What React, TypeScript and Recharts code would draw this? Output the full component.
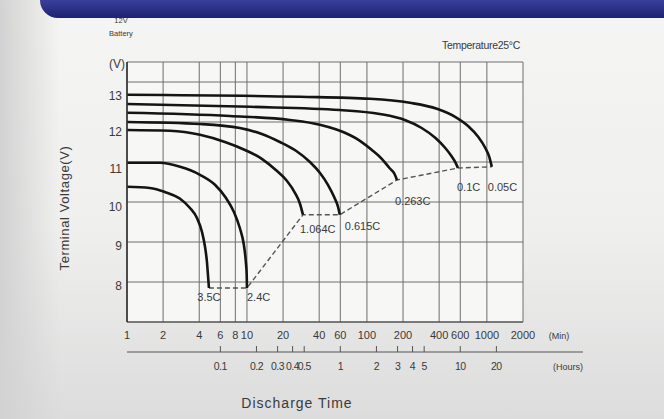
import React from "react";
import { LineChart, Line, XAxis, YAxis, CartesianGrid } from "recharts";

// discharge time axis (minutes, log scale)
const minuteTicks = [1, 2, 4, 6, 8, 10, 20, 40, 60, 100, 200, 400, 600, 1000, 2000];
// hour ticks expressed in minutes, with their labels
const hourTicks = [6, 12, 18, 24, 30, 60, 120, 180, 240, 300, 600, 1200];
const hourLabels = ["0.1", "0.2", "0.3", "0.4", "0.5", "1", "2", "3", "4", "5", "10", "20"];
// voltage grid (7 and 13.5 are the frame edges, unlabeled)
const voltTicks = [7, 8, 9, 10, 11, 12, 13, 13.5];
const voltLabels = [8, 9, 10, 11, 12, 13];

const rateNames = ["3.5C", "2.4C", "1.064C", "0.615C", "0.263C", "0.1C", "0.05C"];

// [minutes, volts]
const c35 = [[1, 10.38], [1.55, 10.35], [2.07, 10.25], [2.77, 10.08], [3.35, 9.85], [3.83, 9.6], [4.22, 9.25],
  [4.47, 8.88], [4.64, 8.5], [4.73, 8.18], [4.82, 7.85]];
const c24 = [[1, 10.98], [1.88, 10.98], [2.77, 10.88], [4.06, 10.68], [5.41, 10.43], [6.69, 10.1], [7.79, 9.75],
  [8.72, 9.35], [9.42, 8.93], [9.79, 8.5], [9.95, 8.18], [10, 7.85]];
const c1064 = [[1, 11.8], [2.28, 11.78], [4.06, 11.68], [6.55, 11.5], [9.63, 11.3], [13.3, 11.08], [17.4, 10.8],
  [21.5, 10.53], [25.1, 10.23], [27.7, 9.95], [29.3, 9.68]];
const c0615 = [[1, 12.0], [4.06, 11.95], [8.72, 11.85], [13.3, 11.7], [18.8, 11.5], [25.6, 11.28], [33.5, 11.0],
  [40.5, 10.73], [47.3, 10.43], [53.2, 10.13], [57.4, 9.88], [59.4, 9.68]];
const c0263 = [[1, 12.23], [7.2, 12.15], [22.8, 12.05], [40.5, 11.93], [65.5, 11.73], [87.5, 11.53], [110, 11.3],
  [133, 11.08], [154, 10.85], [170, 10.7], [178, 10.55]];
const c01 = [[1, 12.45], [10.6, 12.38], [59.4, 12.3], [128, 12.2], [207, 12.05], [286, 11.85], [373, 11.6],
  [450, 11.35], [506, 11.15], [549, 10.98], [574, 10.85]];
const c005 = [[1, 12.68], [27.7, 12.63], [106, 12.58], [228, 12.48], [383, 12.33], [543, 12.13], [697, 11.9],
  [845, 11.63], [970, 11.35], [1047, 11.13], [1099, 10.88]];
const cutoff = [[4.82, 7.85], [10, 7.85], [29.3, 9.68], [59.4, 9.68], [178, 10.55], [574, 10.85], [1099, 10.88]];

const curves = [c35, c24, c1064, c0615, c0263, c01, c005];

// label placement relative to the end point of each curve
const labelOffsets = [
  { dx: 0, dy: 10, anchor: "middle" },
  { dx: 0, dy: 10, anchor: "start" },
  { dx: -3, dy: 15, anchor: "start" },
  { dx: 5, dy: 12, anchor: "start" },
  { dx: -2, dy: 22, anchor: "start" },
  { dx: -1, dy: 20, anchor: "start" },
  { dx: -4, dy: 21, anchor: "start" },
];
const voltLabelShift: Record<number, number> = { 8: 5, 9: 5, 10: 6, 11: 8, 12: 11, 13: 15 };

const FONT = "'Liberation Sans', Arial, sans-serif";
const TEXT = "#3a3a3a";

const toPoints = (rows: number[][]) => rows.map(([t, v]) => ({ t, v }));

function VoltTick(props: any) {
  const { x, y, payload } = props;
  if (!voltLabels.includes(payload.value)) return <g />;
  return (
    <text x={x} y={y + (voltLabelShift[payload.value] ?? 5)} textAnchor="end" dominantBaseline="middle"
      fontSize={12} fill={TEXT} fontFamily={FONT}>
      {payload.value}
    </text>
  );
}

function MinuteTick(props: any) {
  const { x, y, payload } = props;
  return (
    <text x={x} y={y + 14} textAnchor="middle" dominantBaseline="middle" fontSize={11} fill={TEXT} fontFamily={FONT}>
      {payload.value}
    </text>
  );
}

function HourTick(props: any) {
  const { x, y, payload } = props;
  const label = hourLabels[hourTicks.indexOf(payload.value)];
  return (
    <g>
      <line x1={x} x2={x} y1={y} y2={y - 6} stroke="#555" strokeWidth={1} />
      <text x={x} y={y + 15} textAnchor="middle" dominantBaseline="middle" fontSize={10.5} fill={TEXT}
        fontFamily={FONT} letterSpacing={-0.5}>
        {label}
      </text>
    </g>
  );
}

function endLabel(i: number) {
  const last = curves[i].length - 1;
  const off = labelOffsets[i];
  return (props: any) => {
    if (props.index !== last) return null;
    return (
      <text key={`l${i}`} x={props.x + off.dx} y={props.y + off.dy} textAnchor={off.anchor}
        dominantBaseline="middle" fontSize={11} fill={TEXT} fontFamily={FONT}>
        {rateNames[i]}
      </text>
    );
  };
}

export default function App() {
  return (
    <div style={{
      position: "absolute", left: 0, top: 0, width: 664, height: 419, overflow: "hidden",
      background: "linear-gradient(to bottom, #f5f5f3 0%, #efefee 55%, #dcdcdc 100%)",
    }}>
      <div style={{ position: "absolute", left: 0, top: 0, width: 60, height: 419,
        background: "linear-gradient(to right, #d2d2d2, rgba(230,230,230,0))" }} />
      <div style={{ position: "absolute", left: 40, top: 0, width: 624, height: 18,
        borderBottomLeftRadius: 18, background: "linear-gradient(to bottom, #3a3f9c, #1d2270)" }} />
      <div style={{ position: "absolute", left: 0, top: 0 }}>
        <LineChart width={664} height={419} margin={{ top: 62, right: 141, bottom: 37, left: 97 }}>
          <CartesianGrid stroke="#6e6e6e" strokeWidth={1} fill="#f7f7f6" />
          <XAxis dataKey="t" type="number" scale="log" domain={[1, 2000]} allowDataOverflow
            ticks={minuteTicks} interval={0} height={30} tickSize={0} tickMargin={0}
            axisLine={{ stroke: "#444", strokeWidth: 1.2 }} tickLine={false} tick={<MinuteTick />} />
          <XAxis xAxisId="h" dataKey="t" type="number" scale="log" domain={[1, 2000]} allowDataOverflow
            ticks={hourTicks} interval={0} height={30} tickSize={0} tickMargin={0}
            axisLine={{ stroke: "#555", strokeWidth: 1 }} tickLine={false} tick={<HourTick />} />
          <YAxis dataKey="v" type="number" domain={[7, 13.5]} allowDataOverflow ticks={voltTicks}
            interval={0} width={30} tickSize={0} tickMargin={5}
            axisLine={{ stroke: "#333", strokeWidth: 1.6 }} tickLine={false} tick={<VoltTick />} />
          <Line xAxisId="h" data={toPoints(cutoff)} dataKey="v" type="linear" stroke="#555"
            strokeWidth={1.4} strokeDasharray="5 3" dot={false} isAnimationActive={false} />
          {curves.map((c, i) => (
            <Line key={rateNames[i]} data={toPoints(c)} dataKey="v" type="monotone" stroke="#141414"
              strokeWidth={2.6} dot={false} label={endLabel(i)} isAnimationActive={false} />
          ))}
        </LineChart>
      </div>
      <svg width={664} height={419} style={{ position: "absolute", left: 0, top: 0, pointerEvents: "none" }}
        fontFamily={FONT} fill={TEXT}>
        <line x1={523} x2={583} y1={352} y2={352} stroke="#555" strokeWidth={1} />
        <text x={121} y={23} fontSize={7.5} textAnchor="middle">12V</text>
        <text x={121} y={36} fontSize={7.5} textAnchor="middle">Battery</text>
        <text x={520} y={49} fontSize={10.5} textAnchor="end" letterSpacing={-0.3}>Temperature25°C</text>
        <text x={125} y={68} fontSize={12} textAnchor="end">(V)</text>
        <text x={559} y={339} fontSize={9} textAnchor="middle">(Min)</text>
        <text x={568} y={370} fontSize={9} textAnchor="middle">(Hours)</text>
        <text x={0} y={0} fontSize={13} textAnchor="middle" letterSpacing={0.6}
          transform="translate(69 208) rotate(-90)">Terminal Voltage(V)</text>
        <text x={297} y={408} fontSize={14} textAnchor="middle" letterSpacing={1}>Discharge Time</text>
      </svg>
    </div>
  );
}
